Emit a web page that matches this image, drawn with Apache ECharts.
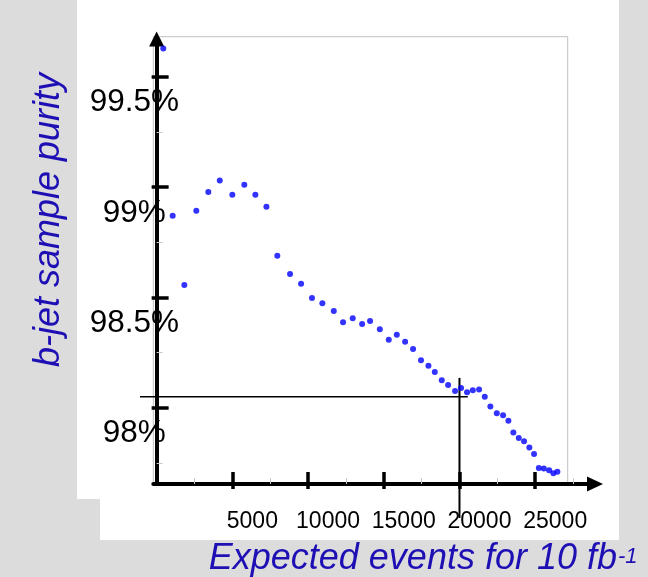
<!DOCTYPE html>
<html>
<head>
<meta charset="utf-8">
<title>b-jet sample purity</title>
<script src="https://cdn.jsdelivr.net/npm/echarts@6/dist/echarts.min.js"></script>
<style>
	html, body { margin: 0; padding: 0; background: #dcdcdc; }
	#echarts1 { width: 648px; height: 577px; }
</style>
</head>
<body>
<div id="echarts1"></div>
<script>
// 数据 --------------------------------------------
var eventsData = [440, 1060, 1830, 2620, 3415, 4170, 5000, 5790, 6520, 7250,
	7970, 8810, 9540, 10260, 10945, 11700, 12310, 12950, 13570, 14095,
	14740, 15330, 15860, 16410, 16935, 17460, 17950, 18370, 18830, 19250,
	19710, 20105, 20500, 20880, 21295, 21670, 22040, 22465, 22880, 23230,
	23560, 23915, 24265, 24615, 24925, 25240, 25570, 25920, 26200, 26465];
var purityData = [99.628, 98.870, 98.556, 98.893, 98.977, 99.030, 98.965, 99.010, 98.965, 98.911,
	98.689, 98.606, 98.562, 98.497, 98.473, 98.438, 98.387, 98.405, 98.379, 98.393,
	98.355, 98.308, 98.331, 98.299, 98.266, 98.215, 98.190, 98.162, 98.124, 98.103,
	98.076, 98.089, 98.070, 98.079, 98.082, 98.050, 98.005, 97.975, 97.966, 97.941,
	97.887, 97.863, 97.848, 97.819, 97.790, 97.727, 97.724, 97.716, 97.703, 97.710];

// 参考线 (working point): 起点x, 起点y, 终点x, 终点y
var refHX = [-1100, 20550];
var refHY = [98.05, 98.05];
var refVX = [20000, 20000];
var refVY = [98.135, 97.50];

// 刻度
var xTicks = [5000, 10000, 15000, 20000, 25000];
var xMinor = [2500, 7500, 12500, 17500, 22500, 27500];
var yTicks = [98, 98.5, 99, 99.5];
var yMinor = [97.75, 98.25, 98.75, 99.25];

var FONT = '"Liberation Sans", Arial, sans-serif';
var BLUE = '#1e0fb4';

function pairs(xs, ys) {
	var out = [];
	for (var i = 0; i < xs.length; i++) out.push([xs[i], ys[i]]);
	return out;
}

function purityChart() {
	var echarts1 = echarts.init(document.getElementById('echarts1'));

	var xMin = -220, xMax = 28950;
	var yMin = 97.654, yMax = 99.671;

	// 参考线用 custom 系列画, 不受坐标范围过滤
	var refLines = [
		[refHX[0], refHY[0], refHX[1], refHY[1], 1.5],
		[refVX[0], refVY[0], refVX[1], refVY[1], 2]
	];

	var option = {
		backgroundColor: '#dcdcdc',
		animation: false,
		graphic: [
			{ // 白色底板
				type: 'polygon', z: -10, silent: true,
				shape: { points: [[77, 0], [619, 0], [619, 540], [100, 540], [100, 499], [77, 499]] },
				style: { fill: '#ffffff' }
			},
			{
				type: 'text', x: 49, y: 220, rotation: Math.PI / 2,
				style: {
					text: 'b-jet sample purity', fill: BLUE,
					font: 'italic 36px ' + FONT, align: 'center', verticalAlign: 'middle'
				}
			},
			{
				type: 'text', x: 617, y: 559,
				style: {
					text: 'Expected events for 10 fb', fill: BLUE,
					font: 'italic 36px ' + FONT, align: 'right', verticalAlign: 'middle'
				}
			},
			{
				type: 'text', x: 618, y: 546,
				style: {
					text: '-1', fill: BLUE,
					font: 'italic 22px ' + FONT, align: 'left', verticalAlign: 'top'
				}
			}
		],
		grid: [
			{ left: 153.3, right: 53, top: 39, bottom: 93 },
			{ left: 153.3, right: 80.3, top: 36.7, bottom: 93, show: true,
				borderColor: '#c0c0c0', borderWidth: 1, backgroundColor: 'transparent' }
		],
		xAxis: [
			{
				gridIndex: 0, type: 'value', min: xMin, max: xMax, position: 'bottom',
				axisLine: { show: true, symbol: ['none', 'triangle'], symbolSize: [15, 16],
					lineStyle: { color: '#000', width: 4 } },
				axisTick: { show: true, inside: true, length: 12, customValues: xTicks,
					lineStyle: { color: '#000', width: 3.5 } },
				axisLabel: { show: true, customValues: xTicks, color: '#000', fontSize: 23,
					fontFamily: FONT, margin: 26, padding: [0, 0, 0, 40],
					formatter: function (v) { return String(v); } },
				splitLine: { show: false }
			},
			{ // 刻度外侧部分
				gridIndex: 0, type: 'value', min: xMin, max: xMax, position: 'bottom',
				axisLine: { show: false },
				axisTick: { show: true, inside: false, length: 5, customValues: xTicks,
					lineStyle: { color: '#000', width: 3.5 } },
				axisLabel: { show: false }, splitLine: { show: false }
			},
			{ // 次刻度
				gridIndex: 0, type: 'value', min: xMin, max: xMax, position: 'bottom',
				axisLine: { show: false },
				axisTick: { show: true, inside: true, length: 6, customValues: xMinor,
					lineStyle: { color: '#c8c8c8', width: 1 } },
				axisLabel: { show: false }, splitLine: { show: false }
			},
			{ gridIndex: 1, type: 'value', show: false, min: 0, max: 1 }
		],
		yAxis: [
			{
				gridIndex: 0, type: 'value', min: yMin, max: yMax, position: 'left',
				axisLine: { show: true, symbol: ['none', 'triangle'], symbolSize: [15, 15],
					lineStyle: { color: '#000', width: 4 } },
				axisTick: { show: true, inside: true, length: 12, customValues: yTicks,
					lineStyle: { color: '#000', width: 3.5 } },
				axisLabel: { show: true, customValues: yTicks, color: '#000', fontSize: 31.5,
					fontFamily: FONT, align: 'center', verticalAlign: 'top', lineHeight: 52,
					margin: 19,
					formatter: function (v) { return v + '%'; } },
				splitLine: { show: false }
			},
			{
				gridIndex: 0, type: 'value', min: yMin, max: yMax, position: 'left',
				axisLine: { show: false },
				axisTick: { show: true, inside: false, length: 5, customValues: yTicks,
					lineStyle: { color: '#000', width: 3.5 } },
				axisLabel: { show: false }, splitLine: { show: false }
			},
			{
				gridIndex: 0, type: 'value', min: yMin, max: yMax, position: 'left',
				axisLine: { show: false },
				axisTick: { show: true, inside: true, length: 6, customValues: yMinor,
					lineStyle: { color: '#c8c8c8', width: 1 } },
				axisLabel: { show: false }, splitLine: { show: false }
			},
			{ gridIndex: 1, type: 'value', show: false, min: 0, max: 1 }
		],
		series: [
			{
				name: 'purity', type: 'scatter', xAxisIndex: 0, yAxisIndex: 0,
				symbol: 'circle', symbolSize: 6,
				itemStyle: { color: '#0000ff' },
				data: pairs(eventsData, purityData)
			},
			{
				type: 'custom', xAxisIndex: 0, yAxisIndex: 0, clip: false, silent: true,
				data: refLines,
				renderItem: function (params, api) {
					var p1 = api.coord([api.value(0), api.value(1)]);
					var p2 = api.coord([api.value(2), api.value(3)]);
					return {
						type: 'line',
						shape: { x1: p1[0], y1: p1[1], x2: p2[0], y2: p2[1] },
						style: { stroke: '#000', lineWidth: api.value(4) }
					};
				}
			}
		]
	};
	echarts1.setOption(option);
}

purityChart();
</script>
</body>
</html>
